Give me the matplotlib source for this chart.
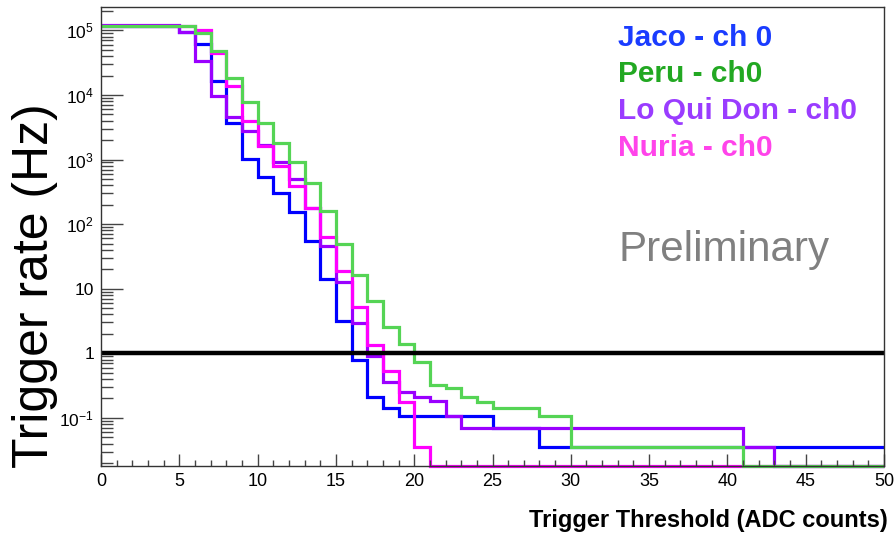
import matplotlib
matplotlib.use("Agg")
import matplotlib.pyplot as plt
from matplotlib.ticker import FixedLocator, LogLocator, MultipleLocator, NullFormatter
import numpy as np

plt.rcParams["font.family"] = ["Liberation Sans", "DejaVu Sans"]
plt.rcParams["mathtext.fontset"] = "custom"
plt.rcParams["mathtext.rm"] = "Liberation Sans"

# ── data: trigger rate (Hz) per 1-ADC bin, thresholds 0..50 ─────────────────
edges = np.arange(0, 51)

jaco = [1.18e5, 1.18e5, 1.18e5, 1.18e5, 1.18e5, 9.5e4, 6.15e4, 1.62e4, 3.67e3, 1.03e3,
        530, 308, 153, 54.3, 13.9, 3.21, 0.785, 0.212, 0.141, 0.106,
        0.106, 0.106, 0.106, 0.106, 0.106, 0.071, 0.071, 0.071, 0.0355, 0.0355,
        0.0355, 0.0355, 0.0355, 0.0355, 0.0355, 0.0355, 0.0355, 0.0355, 0.0355, 0.0355,
        0.0355, 0.0355, 0.0355, 0.0355, 0.0355, 0.0355, 0.0355, 0.0355, 0.0355, 0.0355]

peru = [1.18e5, 1.18e5, 1.18e5, 1.18e5, 1.18e5, 1.18e5, 9.1e4, 4.84e4, 1.83e4, 7.76e3,
        3.67e3, 1.83e3, 921, 440, 160, 49.3, 16.1, 6.45, 2.55, 1.38,
        0.74, 0.32, 0.29, 0.21, 0.177, 0.14, 0.14, 0.14, 0.107, 0.107,
        0.0355, 0.0355, 0.0355, 0.0355, 0.0355, 0.0355, 0.0355, 0.0355, 0.0355, 0.0355,
        0.0355, 0, 0, 0, 0, 0, 0, 0, 0, 0]

loquidon = [1.2e5, 1.2e5, 1.2e5, 1.2e5, 1.2e5, 9.45e4, 3.31e4, 9.72e3, 4.48e3, 2.72e3,
            1.69e3, 931, 497, 180, 45.1, 12.8, 2.99, 0.895, 0.361, 0.253,
            0.213, 0.181, 0.106, 0.071, 0.071, 0.071, 0.071, 0.071, 0.071, 0.071,
            0.071, 0.071, 0.071, 0.071, 0.071, 0.071, 0.071, 0.071, 0.071, 0.071,
            0.071, 0.0355, 0.0355, 0, 0, 0, 0, 0, 0, 0]

nuria = [1.15e5, 1.15e5, 1.15e5, 1.15e5, 1.15e5, 1.15e5, 1.0e5, 4.46e4, 1.39e4, 3.98e3,
         1.63e3, 798, 391, 178, 64, 18.6, 5.2, 1.36, 0.53, 0.178,
         0.0355, 0, 0, 0, 0, 0, 0, 0, 0, 0,
         0, 0, 0, 0, 0, 0, 0, 0, 0, 0,
         0, 0, 0, 0, 0, 0, 0, 0, 0, 0]

labels = ["Jaco - ch 0", "Peru - ch0", "Lo Qui Don - ch0", "Nuria - ch0"]
line_colors = ["#0000ff", "#55d455", "#9a00ff", "#ff00ff"]
text_colors = ["#1a3cff", "#22a822", "#9a3cff", "#ff44ea"]

YMIN, YMAX = 0.018, 2.3e5

fig = plt.figure(figsize=(8.95, 5.35), dpi=100)
ax = fig.add_axes([101 / 895, 1 - 466 / 535, 783 / 895, 459 / 535])

# draw order as in the reference: blue, violet, magenta, green on top
for vals, col in [(jaco, line_colors[0]), (loquidon, line_colors[2]),
                  (nuria, line_colors[3]), (peru, line_colors[1])]:
    v = np.asarray(vals, dtype=float)
    v = np.where(v > 0, v, YMIN)  # empty bins sit on the frame, ROOT style
    ax.stairs(v, edges, baseline=None, color=col, lw=2.3, clip_on=False)

ax.axhline(1, color="black", lw=3.2, zorder=5)

ax.set_yscale("log")
ax.set_xlim(0, 50)
ax.set_ylim(YMIN, YMAX)

ax.xaxis.set_major_locator(MultipleLocator(5))
ax.xaxis.set_minor_locator(MultipleLocator(1))
ax.yaxis.set_major_locator(FixedLocator([0.1, 1, 10, 1e2, 1e3, 1e4, 1e5]))
ax.yaxis.set_minor_locator(LogLocator(base=10, subs=np.arange(2, 10)))
ax.yaxis.set_minor_formatter(NullFormatter())
ax.set_yticklabels([r"$\mathregular{10^{-1}}$", "1", "10", r"$\mathregular{10^{2}}$",
                    r"$\mathregular{10^{3}}$", r"$\mathregular{10^{4}}$",
                    r"$\mathregular{10^{5}}$"])

ax.tick_params(axis="x", which="major", direction="in", length=9, width=1,
               labelsize=13, pad=5, top=False, color="#444444")
ax.tick_params(axis="x", which="minor", direction="in", length=4.5, width=1,
               top=False, color="#444444")
ax.tick_params(axis="y", which="major", direction="in", length=16, width=1,
               labelsize=12.5, pad=5, right=False, color="#444444")
ax.tick_params(axis="y", which="minor", direction="in", length=8.5, width=1,
               right=False, color="#444444")
for sp in ax.spines.values():
    sp.set_color("#333333")
    sp.set_linewidth(1)
    sp.set_zorder(6)

fig.text(35 / 895, 1 - 468 / 535, "Trigger rate (Hz)", rotation=90,
         ha="center", va="bottom", fontsize=36)
fig.text(888 / 895, 1 - 521 / 535, "Trigger Threshold (ADC counts)",
         ha="right", va="center", fontsize=17, fontweight="bold")

for i, (lab, tc) in enumerate(zip(labels, text_colors)):
    fig.text(618 / 895, 1 - (38 + 36.5 * i) / 535, lab, ha="left", va="center",
             fontsize=21.5, fontweight="bold", color=tc)

fig.text(618 / 895, 1 - 250 / 535, "Preliminary", ha="left", va="center",
         fontsize=30.3, color="#808080")

fig.savefig("out.png", dpi=100)
